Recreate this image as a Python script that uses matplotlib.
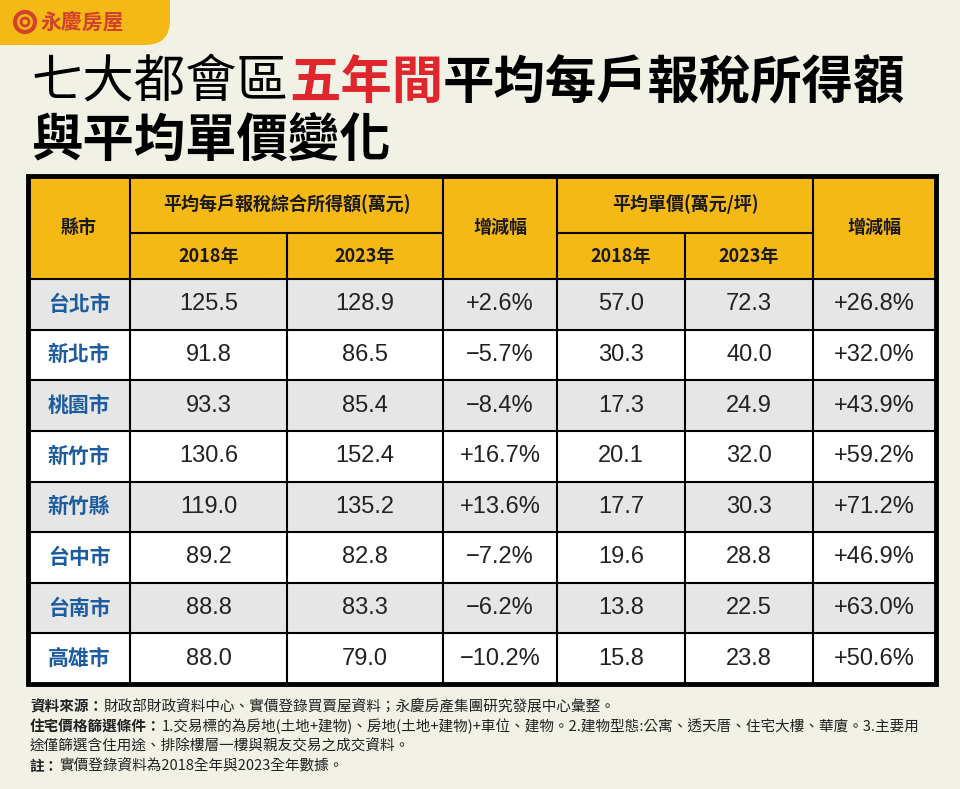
import matplotlib
matplotlib.use("Agg")
import matplotlib.pyplot as plt
from matplotlib.patches import Rectangle, FancyBboxPatch, Circle

plt.rcParams['font.family'] = ['Noto Sans CJK TC', 'DejaVu Sans']

cities = ["台北市", "新北市", "桃園市", "新竹市", "新竹縣", "台中市", "台南市", "高雄市"]
income_2018 = ["125.5", "91.8", "93.3", "130.6", "119.0", "89.2", "88.8", "88.0"]
income_2023 = ["128.9", "86.5", "85.4", "152.4", "135.2", "82.8", "83.3", "79.0"]
income_chg = ["+2.6%", "−5.7%", "−8.4%", "+16.7%", "+13.6%", "−7.2%", "−6.2%", "−10.2%"]
price_2018 = ["57.0", "30.3", "17.3", "20.1", "17.7", "19.6", "13.8", "15.8"]
price_2023 = ["72.3", "40.0", "24.9", "32.0", "30.3", "28.8", "22.5", "23.8"]
price_chg = ["+26.8%", "+32.0%", "+43.9%", "+59.2%", "+71.2%", "+46.9%", "+63.0%", "+50.6%"]

BG = "#f2f1e6"
YEL = "#f5b915"
BLUE = "#1d5c9e"
RED = "#e0262c"

fig = plt.figure(figsize=(9.6, 7.89), dpi=100)
fig.patch.set_facecolor(BG)
ax = fig.add_axes([0, 0, 1, 1])
ax.set_xlim(0, 960)
ax.set_ylim(789, 0)
ax.axis("off")

# logo tab
ax.add_patch(FancyBboxPatch((-30, -30), 200, 75, boxstyle="round,pad=0,rounding_size=25",
                            fc=YEL, ec="none"))
ax.add_patch(Circle((25, 22), 10, fc="none", ec="#d5402a", lw=3))
ax.add_patch(Circle((25, 22), 4, fc="none", ec="#d5402a", lw=2))
ax.text(40, 22, "永慶房屋", fontsize=15, fontweight="bold", color="#d5402a", va="center")

# title
TS = 37
t1 = ax.text(32, 82, "七大都會區", fontsize=TS, color="black", va="center", fontweight="light")
fig.canvas.draw()
x1 = t1.get_window_extent().x1
t2 = ax.text(x1, 82, "五年間", fontsize=TS, color=RED, va="center", fontweight="bold")
fig.canvas.draw()
x2 = t2.get_window_extent().x1
ax.text(x2, 82, "平均每戶報稅所得額", fontsize=TS, color="black", va="center", fontweight="bold")
ax.text(32, 140, "與平均單價變化", fontsize=TS, color="black", va="center", fontweight="bold")

# table geometry
cols = [28, 130, 287, 443, 557, 685, 813, 936]
top, mid, hbot = 176, 233, 279
row_h = (684 - hbot) / 8

ax.add_patch(Rectangle((cols[0], top), cols[-1] - cols[0], hbot - top, fc=YEL, ec="none"))
for i in range(8):
    y = hbot + i * row_h
    ax.add_patch(Rectangle((cols[0], y), cols[-1] - cols[0], row_h,
                           fc="#e6e6e6" if i % 2 == 0 else "white", ec="none"))

lw = 1.5
for x in cols[1:-1]:
    y0 = mid if x in (287, 685) else top
    ax.plot([x, x], [y0, 684], color="black", lw=lw)
ax.plot([cols[1], cols[3]], [mid, mid], color="black", lw=lw)
ax.plot([cols[4], cols[6]], [mid, mid], color="black", lw=lw)
for i in range(8):
    y = hbot + i * row_h
    ax.plot([cols[0], cols[-1]], [y, y], color="black", lw=lw)
ax.add_patch(Rectangle((cols[0], top), cols[-1] - cols[0], 684 - top, fc="none", ec="black", lw=3.5))

def cx(a, b):
    return (cols[a] + cols[b]) / 2

hk = dict(fontsize=13, fontweight="bold", ha="center", va="center", color="#1a1a1a")
ax.text(cx(0, 1), (top + hbot) / 2, "縣市", **hk)
ax.text(cx(1, 3), (top + mid) / 2, "平均每戶報稅綜合所得額(萬元)", **hk)
ax.text(cx(3, 4), (top + hbot) / 2, "增減幅", **hk)
ax.text(cx(4, 6), (top + mid) / 2, "平均單價(萬元/坪)", **hk)
ax.text(cx(6, 7), (top + hbot) / 2, "增減幅", **hk)
for a, lab in [(1, "2018年"), (2, "2023年"), (4, "2018年"), (5, "2023年")]:
    ax.text(cx(a, a + 1), (mid + hbot) / 2, lab, **hk)

for i in range(8):
    y = hbot + (i + 0.5) * row_h
    ax.text(cx(0, 1), y, cities[i], fontsize=15, fontweight="bold", color=BLUE, ha="center", va="center")
    vals = [income_2018[i], income_2023[i], income_chg[i], price_2018[i], price_2023[i], price_chg[i]]
    for j, v in enumerate(vals):
        ax.text(cx(j + 1, j + 2), y, v, fontsize=17, color="#222222", ha="center", va="center",
                family=["Liberation Sans", "DejaVu Sans"])

# footnotes
fk = dict(fontsize=10.5, color="#222222", va="center")
def note(y, bold, rest):
    t = ax.text(30, y, bold, fontweight="bold", **fk)
    fig.canvas.draw()
    ax.text(t.get_window_extent().x1, y, rest, **fk)

note(706, "資料來源：", "財政部財政資料中心、實價登錄買賣屋資料；永慶房產集團研究發展中心彙整。")
note(726, "住宅價格篩選條件：", "1.交易標的為房地(土地+建物)、房地(土地+建物)+車位、建物。2.建物型態:公寓、透天厝、住宅大樓、華廈。3.主要用")
ax.text(30, 746, "途僅篩選含住用途、排除樓層一樓與親友交易之成交資料。", **fk)
note(766, "註：", "實價登錄資料為2018全年與2023全年數據。")

fig.savefig("out.png", dpi=100, facecolor=BG)
